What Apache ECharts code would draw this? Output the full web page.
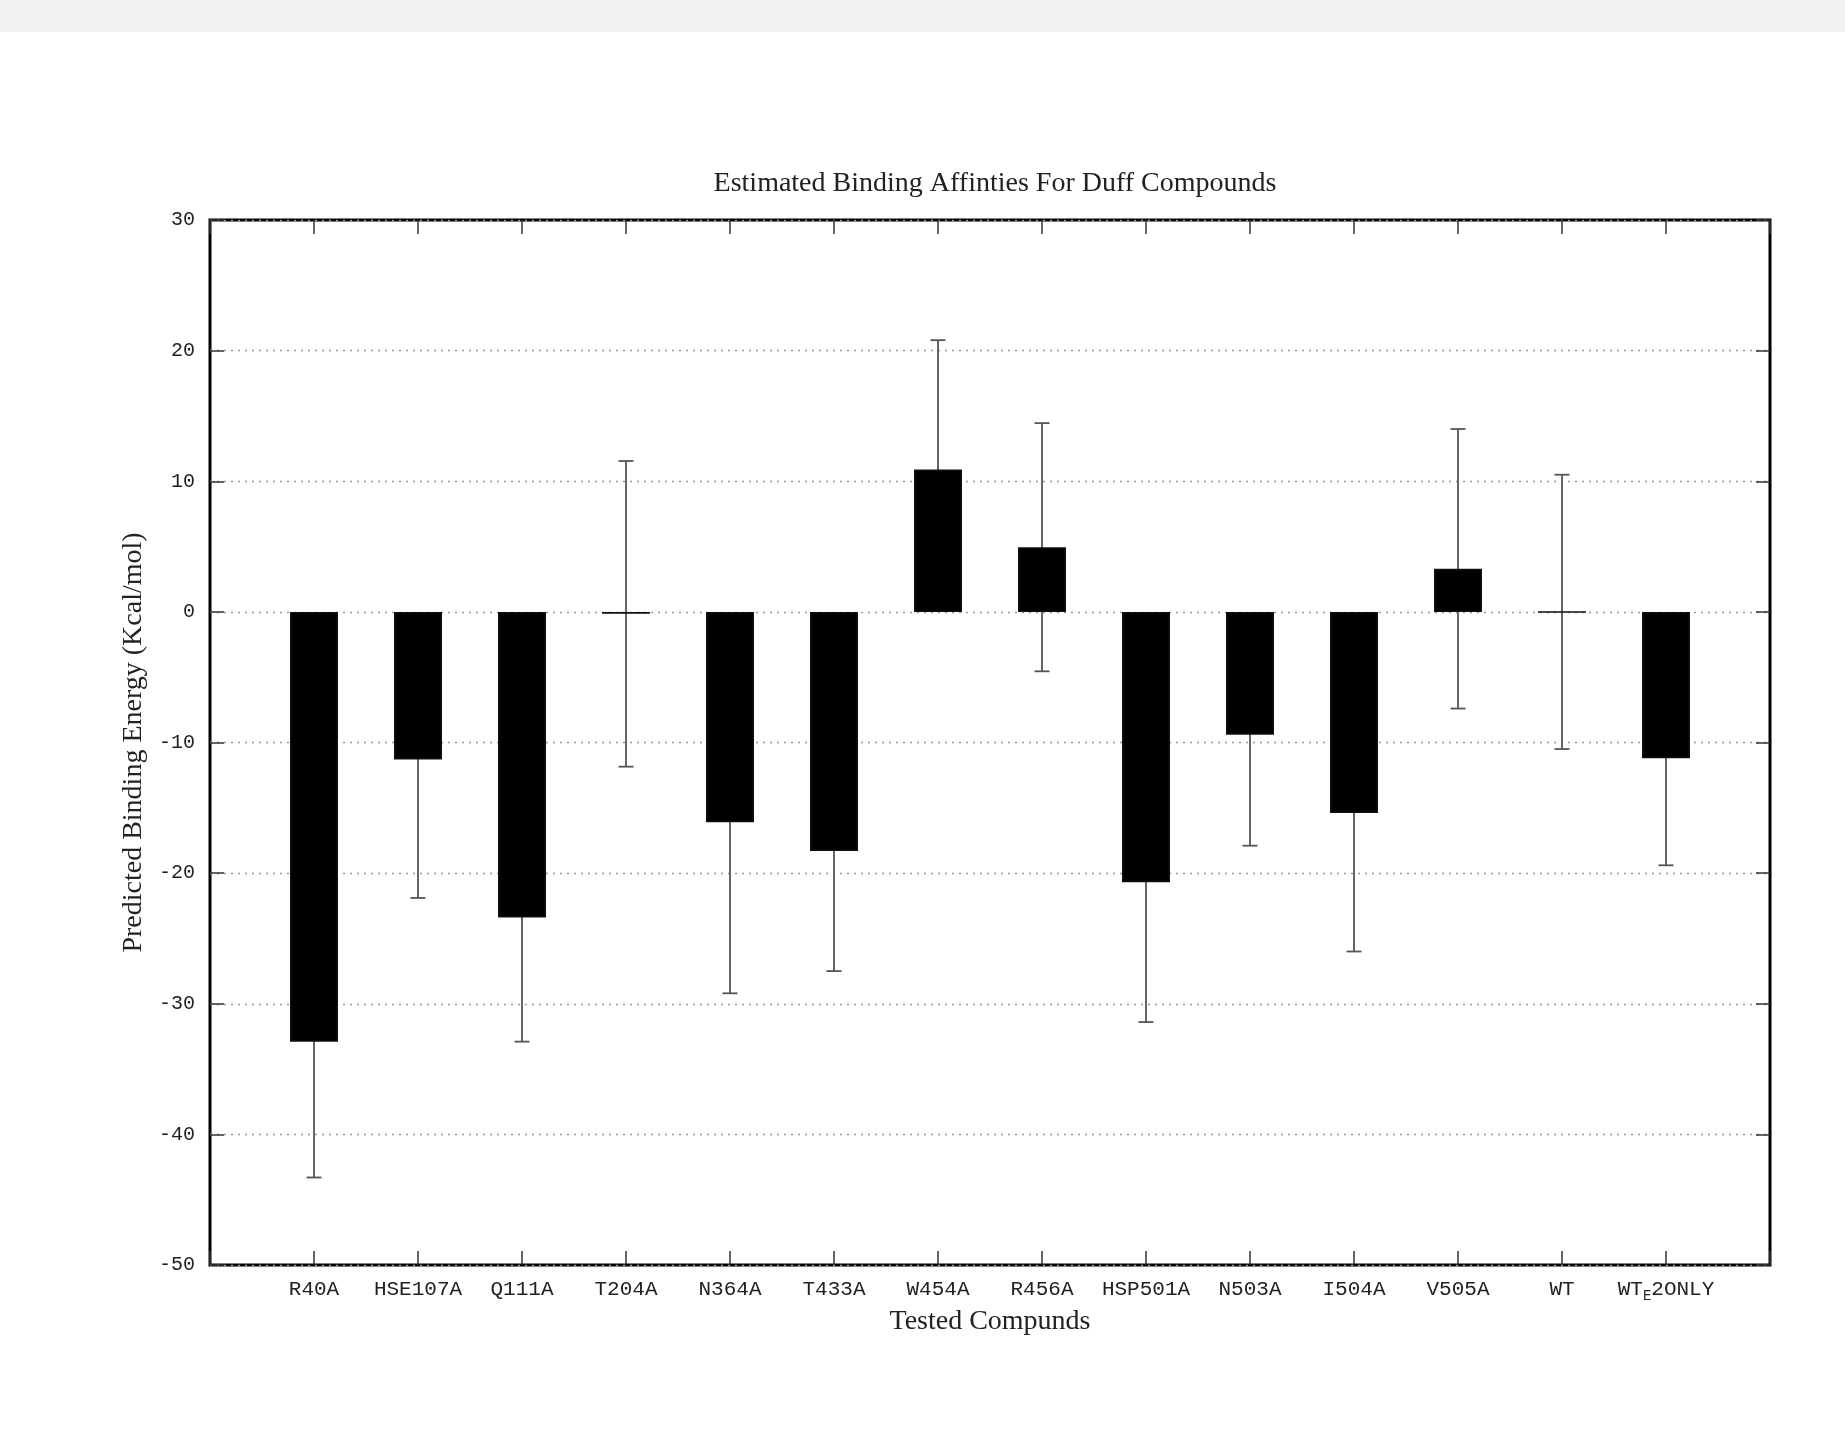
<!DOCTYPE html>
<html>
<head>
<meta charset="utf-8">
<script src="https://cdn.jsdelivr.net/npm/echarts@6/dist/echarts.min.js"></script>
<style>
  html, body { margin: 0; padding: 0; background: #fff; }
  #chart { width: 1845px; height: 1443px; }
</style>
</head>
<body>
<div id="chart"></div>
<script>
// compounds along the x axis (placed at positions 1..14)
const compounds = ['R40A', 'HSE107A', 'Q111A', 'T204A', 'N364A', 'T433A', 'W454A',
  'R456A', 'HSP501A', 'N503A', 'I504A', 'V505A', 'WT', 'WT_E2ONLY']
// predicted binding energy (kcal/mol)
const energies = [-32.9, -11.3, -23.4, -0.15, -16.1, -18.3, 10.9, 4.95, -20.7, -9.4, -15.4, 3.3, 0, -11.2]
// error (symmetric)
const errors = [10.4, 10.6, 9.5, 11.7, 13.1, 9.2, 9.9, 9.5, 10.7, 8.5, 10.6, 10.7, 10.5, 8.2]
const yTicks = [30, 20, 10, 0, -10, -20, -30, -40, -50]

const MONO = '"Liberation Mono", "DejaVu Sans Mono", monospace'
const SERIF = '"Liberation Serif", "DejaVu Serif", serif'

const chart = echarts.init(document.getElementById('chart'))

const barData = compounds.map((c, i) => [i + 1, energies[i]])
const errData = compounds.map((c, i) => [i + 1, energies[i] + errors[i], energies[i] - errors[i]])

function xLabel(v) {
  if (v < 1 || v > compounds.length) return ''
  const name = compounds[v - 1]
  if (name === 'WT_E2ONLY') return '{a|WT}{s|E}{a|2ONLY}'
  return '{a|' + name + '}'
}

const tickStyle = { show: true, inside: true, length: 14, lineStyle: { color: '#333', width: 1.5 } }
const noLine = { show: false, onZero: false }

chart.setOption({
  animation: false,
  backgroundColor: '#fff',
  graphic: [{
    type: 'rect', left: 0, top: 0, z: -10,
    shape: { width: 1845, height: 32 },
    style: { fill: '#f2f2f2' },
  }],
  title: {
    text: 'Estimated Binding Affinties For Duff Compounds',
    left: 990, top: 165, textAlign: 'center',
    textStyle: { fontFamily: SERIF, fontSize: 28, fontWeight: 'normal', color: '#222' },
  },
  grid: {
    left: 210, top: 220, width: 1560, height: 1045,
    show: true, borderColor: '#000', borderWidth: 3, backgroundColor: 'transparent',
  },
  xAxis: [{
    type: 'value', min: 0, max: 15, interval: 1,
    name: 'Tested Compunds', nameLocation: 'middle', nameGap: 41,
    nameTextStyle: { fontFamily: SERIF, fontSize: 28, color: '#222' },
    axisLine: noLine,
    axisTick: tickStyle,
    splitLine: { show: false },
    axisLabel: {
      margin: 14, formatter: xLabel,
      rich: {
        a: { fontFamily: MONO, fontSize: 21, color: '#222', verticalAlign: 'top', lineHeight: 22 },
        s: { fontFamily: MONO, fontSize: 14, color: '#222', verticalAlign: 'top', lineHeight: 22, padding: [10, 0, 0, 0] },
      },
    },
  }, {
    type: 'value', position: 'top', min: 0, max: 15, interval: 1,
    axisLine: noLine, axisTick: tickStyle,
    axisLabel: { show: false }, splitLine: { show: false },
  }],
  yAxis: [{
    type: 'value', min: -50, max: 30, interval: 10,
    name: 'Predicted Binding Energy (Kcal/mol)', nameLocation: 'middle', nameGap: 53,
    nameTextStyle: { fontFamily: SERIF, fontSize: 28, color: '#222' },
    axisLine: noLine,
    axisTick: tickStyle,
    axisLabel: {
      margin: 15, fontFamily: MONO, fontSize: 20, color: '#222',
      formatter: v => yTicks.includes(v) ? String(v) : '',
    },
    splitLine: { show: true, lineStyle: { color: '#999', width: 1.3, type: [2, 5] } },
  }, {
    type: 'value', position: 'right', min: -50, max: 30, interval: 10,
    axisLine: noLine, axisTick: tickStyle,
    axisLabel: { show: false }, splitLine: { show: false },
  }],
  series: [{
    type: 'custom',
    z: 1,
    data: errData,
    renderItem: (params, api) => {
      const x = api.value(0)
      const hi = api.coord([x, api.value(1)])
      const lo = api.coord([x, api.value(2)])
      const cap = 7.5
      const style = { stroke: '#555', lineWidth: 1.8 }
      return {
        type: 'group',
        children: [
          { type: 'line', shape: { x1: hi[0], y1: hi[1], x2: lo[0], y2: lo[1] }, style },
          { type: 'line', shape: { x1: hi[0] - cap, y1: hi[1], x2: hi[0] + cap, y2: hi[1] }, style },
          { type: 'line', shape: { x1: lo[0] - cap, y1: lo[1], x2: lo[0] + cap, y2: lo[1] }, style },
        ],
      }
    },
  }, {
    type: 'bar',
    z: 3,
    barWidth: 48,
    data: barData,
    itemStyle: { color: '#000', borderColor: '#111', borderWidth: 1.5 },
  }],
})
</script>
</body>
</html>
